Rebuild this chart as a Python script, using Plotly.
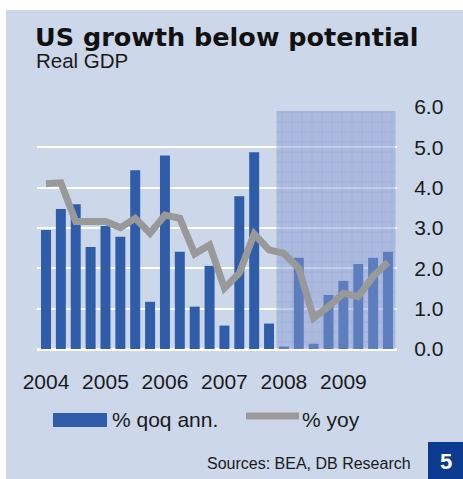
import plotly.graph_objects as go

# ---------------- data ----------------
quarters = [f"{y}Q{q}" for y in range(2004, 2010) for q in range(1, 5)]
qoq_ann = [2.95, 3.47, 3.59, 2.53, 3.05, 2.78, 4.43, 1.17,
           4.80, 2.41, 1.05, 2.06, 0.58, 3.79, 4.88, 0.63,
           0.06, 2.26, 0.13, 1.34, 1.69, 2.11, 2.26, 2.41]
yoy = [4.10, 4.12, 3.16, 3.14, 3.16, 3.01, 3.24, 2.87,
       3.32, 3.24, 2.36, 2.58, 1.51, 1.88, 2.85, 2.46,
       2.37, 2.00, 0.77, 1.05, 1.38, 1.30, 1.80, 2.15]
year_labels = ["2004", "2005", "2006", "2007", "2008", "2009"]
forecast_start = "2008Q1"
y_ticks = [0, 1, 2, 3, 4, 5, 6]

# ---------------- layout constants ----------------
W, H = 463, 479
ML, MR, MT, MB = 37, 66, 107, 130
PW = W - ML - MR
PH = H - MT - MB

def px_x(X):
    return (X - ML) / PW

def px_y(Y):
    return (H - MB - Y) / PH

BG = "#ccd7ea"
BAR = "#2f5daa"
LINE = "#999999"
FONT = "Liberation Sans, Arial, sans-serif"
SHADE = "rgba(138,158,210,0.5)"

idx = list(range(len(quarters)))
fc_idx = [i for i, q in enumerate(quarters) if q >= forecast_start]
tick_pos = [quarters.index(f"{y}Q1") for y in year_labels]

fig = go.Figure()
fig.add_trace(go.Bar(x=idx, y=qoq_ann, name="% qoq ann.", marker_color=BAR,
                     marker_line_width=0, showlegend=False))
fig.add_trace(go.Scatter(x=idx, y=yoy, name="% yoy", mode="lines",
                         line=dict(color=LINE, width=7), showlegend=False))
# forecast shading (textured overlay)
fig.add_trace(go.Bar(x=[sum(fc_idx) / len(fc_idx)], y=[5.9], width=[len(fc_idx)],
                     marker=dict(color=SHADE, line_width=0,
                                 pattern=dict(shape="+", size=10, solidity=0.12,
                                              fgcolor="rgba(105,130,198,0.45)",
                                              bgcolor=SHADE)),
                     hoverinfo="skip", showlegend=False))

fig.update_layout(
    width=W, height=H,
    margin=dict(l=ML, r=MR, t=MT, b=MB, pad=0),
    paper_bgcolor="white", plot_bgcolor="rgba(0,0,0,0)",
    barmode="overlay", bargap=0.33,
    font=dict(family=FONT, size=21, color="#1a1a1a"),
    showlegend=False,
)
fig.update_xaxes(range=[-0.605, len(quarters) - 1 + 0.605], tickvals=tick_pos,
                 ticktext=year_labels, showgrid=False, zeroline=False, showline=False,
                 ticks="outside", ticklen=14, tickcolor="rgba(0,0,0,0)",
                 tickfont=dict(size=21))
fig.update_yaxes(range=[0, 6], tickvals=y_ticks, tickformat=".1f", side="right",
                 showgrid=True, gridcolor="white", gridwidth=2,
                 zeroline=True, zerolinecolor="white", zerolinewidth=3,
                 showline=False, ticks="outside", ticklen=12,
                 tickcolor="rgba(0,0,0,0)", tickfont=dict(size=21))

shapes = [
    # panel background
    dict(type="rect", xref="paper", yref="paper", layer="below",
         x0=px_x(6), x1=px_x(W + 2), y0=px_y(10), y1=px_y(H + 2),
         fillcolor=BG, line_width=0),
    # legend: bar swatch
    dict(type="rect", xref="paper", yref="paper",
         x0=px_x(53), x1=px_x(107), y0=px_y(413), y1=px_y(427),
         fillcolor=BAR, line_width=0),
    # legend: line swatch
    dict(type="line", xref="paper", yref="paper",
         x0=px_x(246), x1=px_x(299), y0=px_y(416), y1=px_y(416),
         line=dict(color=LINE, width=7)),
    # page badge
    dict(type="rect", xref="paper", yref="paper",
         x0=px_x(428), x1=px_x(W + 2), y0=px_y(442), y1=px_y(H + 2),
         fillcolor="#0b3a8e", line_width=0),
]
fig.update_layout(shapes=shapes)

annotations = [
    dict(text="<b>US growth below potential</b>", x=px_x(33), y=px_y(37),
         xanchor="left", yanchor="middle", showarrow=False,
         font=dict(family="DejaVu Sans", size=25.5, color="#111111")),
    dict(text="Real GDP", x=px_x(34), y=px_y(60.5), xanchor="left", yanchor="middle",
         showarrow=False, font=dict(size=20.5, color="#1a1a1a")),
    dict(text="% qoq ann.", x=px_x(110), y=px_y(419), xanchor="left", yanchor="middle",
         showarrow=False, font=dict(size=21)),
    dict(text="% yoy", x=px_x(300), y=px_y(419), xanchor="left", yanchor="middle",
         showarrow=False, font=dict(size=21)),
    dict(text="Sources: BEA, DB Research", x=px_x(413), y=px_y(463), xanchor="right",
         yanchor="middle", showarrow=False, font=dict(size=16)),
    dict(text="<b>5</b>", x=px_x(445.5), y=px_y(461), xanchor="center", yanchor="middle",
         showarrow=False, font=dict(size=22, color="white")),
]
for a in annotations:
    a["xref"] = "paper"
    a["yref"] = "paper"
fig.update_layout(annotations=annotations)

fig.write_html("out.html", config={"displayModeBar": False},
               post_script="document.body.style.margin='0';document.body.style.overflow='hidden';")
